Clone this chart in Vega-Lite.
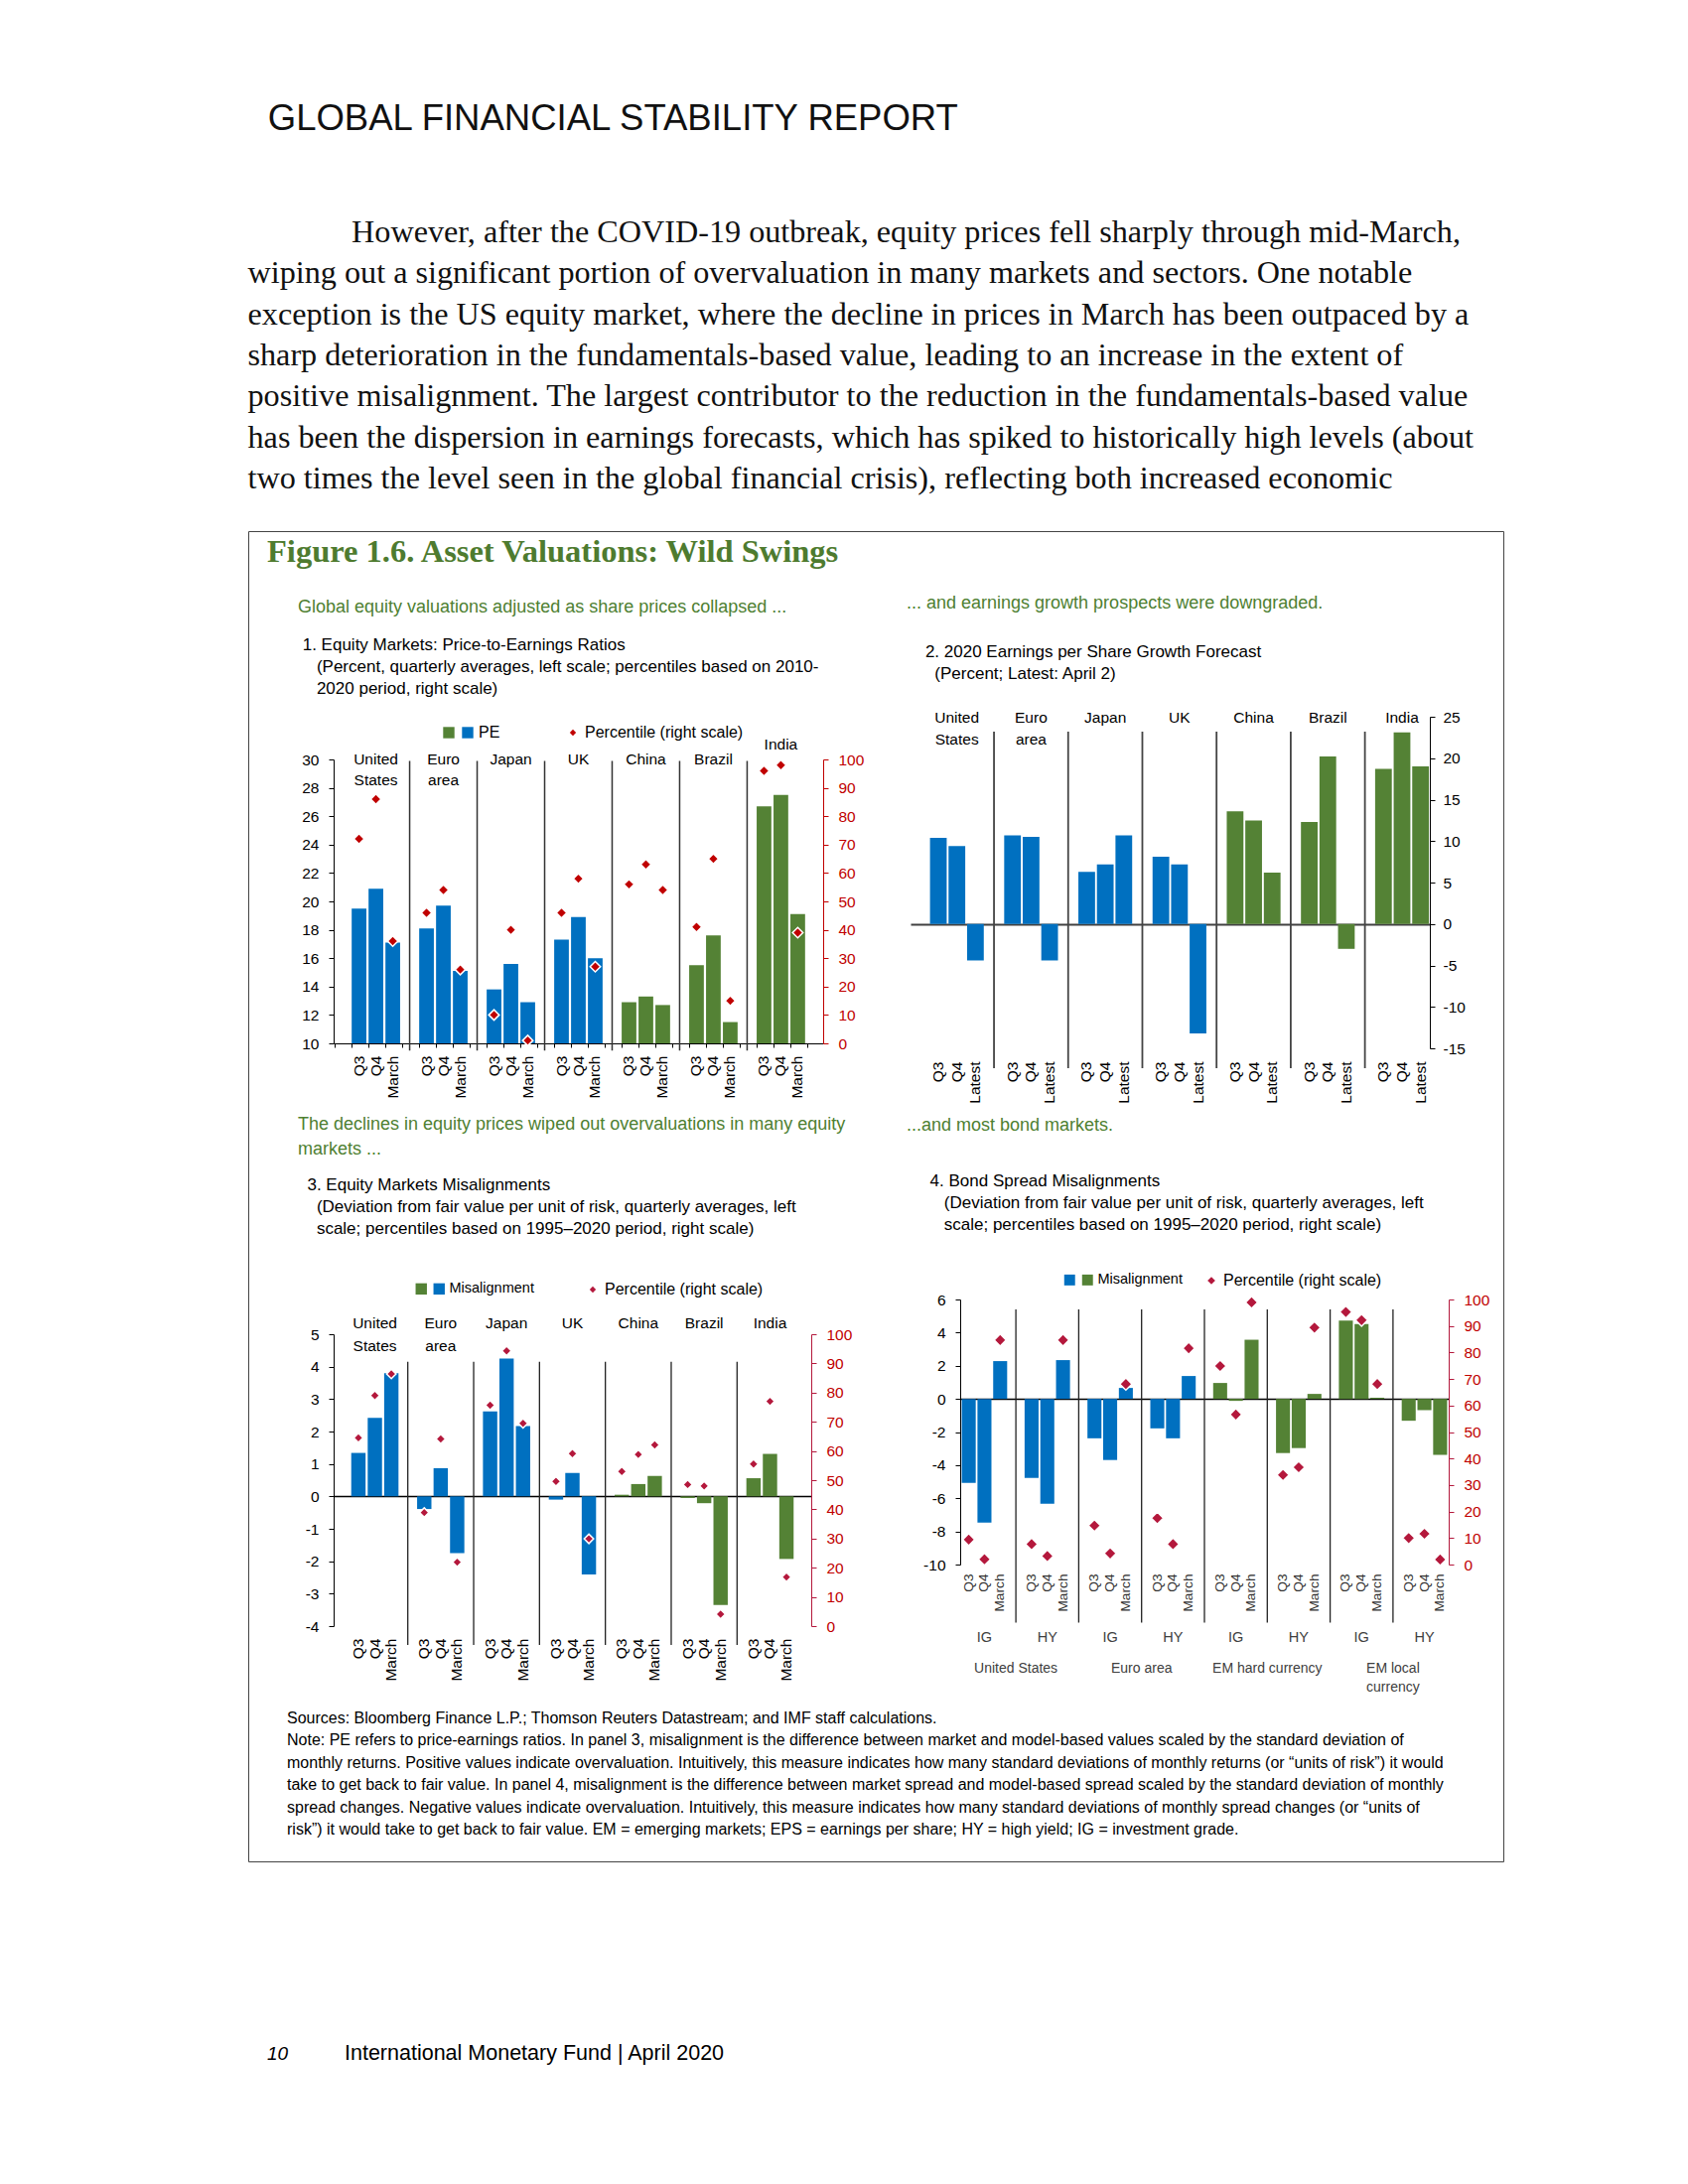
{
  "$schema": "https://vega.github.io/schema/vega-lite/v6.json",
  "background": "white",
  "padding": {"left": 249, "top": 102, "right": 10, "bottom": 10},
  "config": {
    "view": {"stroke": null},
    "font": "Liberation Sans",
    "axis": {"labelFont": "Liberation Sans", "labelFontSize": 15.5, "labelColor": "#000", "domainColor": "#000", "tickColor": "#000", "tickSize": 5, "labelPadding": 10, "grid": false, "labelOverlap": false},
    "legend": {"labelFont": "Liberation Sans", "labelFontSize": 16, "labelColor": "#000", "labelLimit": 400},
    "text": {"font": "Liberation Sans", "fontSize": 15.5, "lineBreak": "\n", "color": "#000"},
    "title": {"font": "Liberation Sans", "fontWeight": "normal", "anchor": "start", "frame": "group", "color": "#4E8031", "fontSize": 18, "subtitleFont": "Liberation Sans", "subtitleFontSize": 17, "subtitleColor": "#000", "subtitleLineHeight": 22}
  },
  "datasets": {
    "p1": [
      {"slot": "US Q3", "grp": "AE", "v": 19.5, "pct": 72},
      {"slot": "US Q4", "grp": "AE", "v": 20.9, "pct": 86},
      {"slot": "US March", "grp": "AE", "v": 17.1, "pct": 36},
      {"slot": "EA Q3", "grp": "AE", "v": 18.1, "pct": 46},
      {"slot": "EA Q4", "grp": "AE", "v": 19.7, "pct": 54},
      {"slot": "EA March", "grp": "AE", "v": 15.1, "pct": 26},
      {"slot": "JP Q3", "grp": "AE", "v": 13.8, "pct": 10},
      {"slot": "JP Q4", "grp": "AE", "v": 15.6, "pct": 40},
      {"slot": "JP March", "grp": "AE", "v": 12.9, "pct": 1},
      {"slot": "UK Q3", "grp": "AE", "v": 17.3, "pct": 46},
      {"slot": "UK Q4", "grp": "AE", "v": 18.9, "pct": 58},
      {"slot": "UK March", "grp": "AE", "v": 16.0, "pct": 27},
      {"slot": "CN Q3", "grp": "EM", "v": 12.9, "pct": 56},
      {"slot": "CN Q4", "grp": "EM", "v": 13.3, "pct": 63},
      {"slot": "CN March", "grp": "EM", "v": 12.7, "pct": 54},
      {"slot": "BR Q3", "grp": "EM", "v": 15.5, "pct": 41},
      {"slot": "BR Q4", "grp": "EM", "v": 17.6, "pct": 65},
      {"slot": "BR March", "grp": "EM", "v": 11.5, "pct": 15},
      {"slot": "IN Q3", "grp": "EM", "v": 26.7, "pct": 96},
      {"slot": "IN Q4", "grp": "EM", "v": 27.5, "pct": 98},
      {"slot": "IN March", "grp": "EM", "v": 19.1, "pct": 39}
    ],
    "p2": [
      {"slot": "US Q3", "grp": "AE", "v": 10.4},
      {"slot": "US Q4", "grp": "AE", "v": 9.4},
      {"slot": "US Latest", "grp": "AE", "v": -4.4},
      {"slot": "EA Q3", "grp": "AE", "v": 10.7},
      {"slot": "EA Q4", "grp": "AE", "v": 10.5},
      {"slot": "EA Latest", "grp": "AE", "v": -4.4},
      {"slot": "JP Q3", "grp": "AE", "v": 6.3},
      {"slot": "JP Q4", "grp": "AE", "v": 7.2},
      {"slot": "JP Latest", "grp": "AE", "v": 10.7},
      {"slot": "UK Q3", "grp": "AE", "v": 8.1},
      {"slot": "UK Q4", "grp": "AE", "v": 7.2},
      {"slot": "UK Latest", "grp": "AE", "v": -13.2},
      {"slot": "CN Q3", "grp": "EM", "v": 13.6},
      {"slot": "CN Q4", "grp": "EM", "v": 12.5},
      {"slot": "CN Latest", "grp": "EM", "v": 6.2},
      {"slot": "BR Q3", "grp": "EM", "v": 12.3},
      {"slot": "BR Q4", "grp": "EM", "v": 20.2},
      {"slot": "BR Latest", "grp": "EM", "v": -3.0},
      {"slot": "IN Q3", "grp": "EM", "v": 18.7},
      {"slot": "IN Q4", "grp": "EM", "v": 23.1},
      {"slot": "IN Latest", "grp": "EM", "v": 19.0}
    ],
    "p3": [
      {"slot": "US Q3", "grp": "AE", "v": 1.34, "pct": 64.5},
      {"slot": "US Q4", "grp": "AE", "v": 2.42, "pct": 79},
      {"slot": "US March", "grp": "AE", "v": 3.8, "pct": 86.4},
      {"slot": "EA Q3", "grp": "AE", "v": -0.39, "pct": 38.9},
      {"slot": "EA Q4", "grp": "AE", "v": 0.87, "pct": 64.1},
      {"slot": "EA March", "grp": "AE", "v": -1.75, "pct": 21.9},
      {"slot": "JP Q3", "grp": "AE", "v": 2.62, "pct": 75.7},
      {"slot": "JP Q4", "grp": "AE", "v": 4.25, "pct": 94.3},
      {"slot": "JP March", "grp": "AE", "v": 2.17, "pct": 69.5},
      {"slot": "UK Q3", "grp": "AE", "v": -0.1, "pct": 49.6},
      {"slot": "UK Q4", "grp": "AE", "v": 0.72, "pct": 59.1},
      {"slot": "UK March", "grp": "AE", "v": -2.41, "pct": 29.9},
      {"slot": "CN Q3", "grp": "EM", "v": 0.05, "pct": 53},
      {"slot": "CN Q4", "grp": "EM", "v": 0.38, "pct": 58.8},
      {"slot": "CN March", "grp": "EM", "v": 0.63, "pct": 62.1},
      {"slot": "BR Q3", "grp": "EM", "v": -0.05, "pct": 48.5},
      {"slot": "BR Q4", "grp": "EM", "v": -0.21, "pct": 48},
      {"slot": "BR March", "grp": "EM", "v": -3.35, "pct": 4.1},
      {"slot": "IN Q3", "grp": "EM", "v": 0.56, "pct": 55.5},
      {"slot": "IN Q4", "grp": "EM", "v": 1.31, "pct": 77},
      {"slot": "IN March", "grp": "EM", "v": -1.93, "pct": 16.8}
    ],
    "p4": [
      {"slot": "USIG Q3", "grp": "AE", "v": -5.07, "pct": 9.4},
      {"slot": "USIG Q4", "grp": "AE", "v": -7.47, "pct": 2.0},
      {"slot": "USIG March", "grp": "AE", "v": 2.28, "pct": 84.7},
      {"slot": "USHY Q3", "grp": "AE", "v": -4.77, "pct": 7.7},
      {"slot": "USHY Q4", "grp": "AE", "v": -6.33, "pct": 3.2},
      {"slot": "USHY March", "grp": "AE", "v": 2.34, "pct": 84.7},
      {"slot": "EAIG Q3", "grp": "AE", "v": -2.38, "pct": 14.7},
      {"slot": "EAIG Q4", "grp": "AE", "v": -3.69, "pct": 4.2},
      {"slot": "EAIG March", "grp": "AE", "v": 0.66, "pct": 68.1},
      {"slot": "EAHY Q3", "grp": "AE", "v": -1.78, "pct": 17.5},
      {"slot": "EAHY Q4", "grp": "AE", "v": -2.38, "pct": 7.7},
      {"slot": "EAHY March", "grp": "AE", "v": 1.38, "pct": 81.6},
      {"slot": "HCIG Q3", "grp": "EM", "v": 0.96, "pct": 74.9},
      {"slot": "HCIG Q4", "grp": "EM", "v": -0.12, "pct": 56.6},
      {"slot": "HCIG March", "grp": "EM", "v": 3.57, "pct": 98.9},
      {"slot": "HCHY Q3", "grp": "EM", "v": -3.27, "pct": 33.8},
      {"slot": "HCHY Q4", "grp": "EM", "v": -2.97, "pct": 36.7},
      {"slot": "HCHY March", "grp": "EM", "v": 0.3, "pct": 89.4},
      {"slot": "LCIG Q3", "grp": "EM", "v": 4.73, "pct": 95.3},
      {"slot": "LCIG Q4", "grp": "EM", "v": 4.51, "pct": 92.2},
      {"slot": "LCIG March", "grp": "EM", "v": 0.07, "pct": 68.1},
      {"slot": "LCHY Q3", "grp": "EM", "v": -1.32, "pct": 10.0},
      {"slot": "LCHY Q4", "grp": "EM", "v": -0.68, "pct": 11.6},
      {"slot": "LCHY March", "grp": "EM", "v": -3.38, "pct": 1.9}
    ],
    "sep6": [{"slot": "s1"}, {"slot": "s2"}, {"slot": "s3"}, {"slot": "s4"}, {"slot": "s5"}, {"slot": "s6"}],
    "sep7": [{"slot": "s1"}, {"slot": "s2"}, {"slot": "s3"}, {"slot": "s4"}, {"slot": "s5"}, {"slot": "s6"}, {"slot": "s7"}],
    "labA": [
      {"slot": "US Q4", "label": "United\nStates"},
      {"slot": "EA Q4", "label": "Euro\narea"},
      {"slot": "JP Q4", "label": "Japan"},
      {"slot": "UK Q4", "label": "UK"},
      {"slot": "CN Q4", "label": "China"},
      {"slot": "BR Q4", "label": "Brazil"}
    ],
    "labAll": [
      {"slot": "US Q4", "label": "United\nStates"},
      {"slot": "EA Q4", "label": "Euro\narea"},
      {"slot": "JP Q4", "label": "Japan"},
      {"slot": "UK Q4", "label": "UK"},
      {"slot": "CN Q4", "label": "China"},
      {"slot": "BR Q4", "label": "Brazil"},
      {"slot": "IN Q4", "label": "India"}
    ],
    "labType": [
      {"slot": "USIG Q4", "label": "IG"},
      {"slot": "USHY Q4", "label": "HY"},
      {"slot": "EAIG Q4", "label": "IG"},
      {"slot": "EAHY Q4", "label": "HY"},
      {"slot": "HCIG Q4", "label": "IG"},
      {"slot": "HCHY Q4", "label": "HY"},
      {"slot": "LCIG Q4", "label": "IG"},
      {"slot": "LCHY Q4", "label": "HY"}
    ],
    "labRegion": [
      {"slot": "s1", "label": "United States"},
      {"slot": "s3", "label": "Euro area"},
      {"slot": "s5", "label": "EM hard currency"},
      {"slot": "s7", "label": "EM local\ncurrency"}
    ]
  },
  "title": {
    "text": "\u200b\u00a0\u00a0GLOBAL FINANCIAL STABILITY REPORT",
    "subtitle": [
      "\u200b\u00a0\u00a0\u00a0\u00a0\u00a0\u00a0\u00a0\u00a0\u00a0\u00a0\u00a0\u00a0\u00a0However, after the COVID-19 outbreak, equity prices fell sharply through mid-March,",
      "wiping out a significant portion of overvaluation in many markets and sectors. One notable",
      "exception is the US equity market, where the decline in prices in March has been outpaced by a",
      "sharp deterioration in the fundamentals-based value, leading to an increase in the extent of",
      "positive misalignment. The largest contributor to the reduction in the fundamentals-based value",
      "has been the dispersion in earnings forecasts, which has spiked to historically high levels (about",
      "two times the level seen in the global financial crisis), reflecting both increased economic"
    ],
    "anchor": "start",
    "frame": "bounds",
    "font": "Liberation Sans",
    "fontSize": 36.5,
    "fontWeight": "normal",
    "color": "#111",
    "subtitleFont": "Liberation Serif",
    "subtitleFontSize": 32.2,
    "subtitleColor": "#111",
    "subtitleLineHeight": 41.4,
    "subtitlePadding": 80,
    "offset": 36
  },
  "columns": 2,
  "align": "none",
  "spacing": -1246,
  "resolve": {"scale": {"color": "independent", "shape": "independent"}, "legend": {"color": "independent", "shape": "independent"}},
  "concat": [
    {
      "width": 1264,
      "height": 1340,
      "view": {"stroke": "#444", "strokeWidth": 1},
      "title": {"text": "Figure 1.6. Asset Valuations: Wild Swings", "anchor": "start", "frame": "group", "orient": "top", "offset": -37, "dx": 19, "font": "Liberation Serif", "fontSize": 32.5, "fontWeight": "bold", "color": "#4E7B2F"},
      "data": {"values": []},
      "mark": "text"
    },
    {
      "spacing": 15,
      "resolve": {"scale": {"color": "independent", "shape": "independent"}, "legend": {"color": "independent", "shape": "independent"}},
      "vconcat": [
        {
          "spacing": 20,
          "resolve": {"scale": {"color": "independent", "shape": "independent"}, "legend": {"color": "independent", "shape": "independent"}},
          "hconcat": [
            {
              "spacing": 17,
              "resolve": {"scale": {"color": "independent", "shape": "independent"}, "legend": {"color": "independent", "shape": "independent"}},
              "vconcat": [
                {"width": 1, "height": 50, "data": {"values": []}, "mark": "text"},
                {
                  "width": 493,
                  "height": 286,
                  "title": {
                    "text": "Global equity valuations adjusted as share prices collapsed ...",
                    "subtitle": [
                      "\u200b\u00a01. Equity Markets: Price-to-Earnings Ratios",
                      "\u200b\u00a0\u00a0\u00a0\u00a0(Percent, quarterly averages, left scale; percentiles based on 2010-",
                      "\u200b\u00a0\u00a0\u00a0\u00a02020 period, right scale)"
                    ],
                    "dx": -36,
                    "subtitlePadding": 21,
                    "offset": 28.5
                  },
                  "encoding": {
                    "x": {
                      "field": "slot", "type": "nominal",
                      "scale": {"domain": ["b0", "US Q3", "US Q4", "US March", "s1", "EA Q3", "EA Q4", "EA March", "s2", "JP Q3", "JP Q4", "JP March", "s3", "UK Q3", "UK Q4", "UK March", "s4", "CN Q3", "CN Q4", "CN March", "s5", "BR Q3", "BR Q4", "BR March", "s6", "IN Q3", "IN Q4", "IN March", "b7"], "paddingInner": 0.13, "paddingOuter": 0.07},
                      "axis": {"title": null, "labelAngle": 270, "labelExpr": "substring(datum.value, 3)", "bandPosition": 0, "tickSize": 4, "labelPadding": 8, "labelOverlap": false}
                    }
                  },
                  "layer": [
                    {
                      "layer": [
                        {
                          "data": {"name": "p1"},
                          "mark": {"type": "bar"},
                          "encoding": {
                            "y": {"field": "v", "type": "quantitative", "scale": {"domain": [10, 30], "nice": false, "zero": false}, "axis": {"title": null, "orient": "left", "values": [10, 12, 14, 16, 18, 20, 22, 24, 26, 28, 30], "labelOverlap": false, "labelBound": false, "tickCount": 11}},
                            "y2": {"datum": 10},
                            "color": {"field": "grp", "type": "nominal", "scale": {"domain": ["EM", "AE"], "range": ["#548235", "#0070C0"]}, "legend": {"orient": "none", "legendX": 108, "legendY": -35, "direction": "horizontal", "title": null, "symbolType": "square", "symbolSize": 130, "symbolStrokeWidth": 0, "labelExpr": "datum.value === 'AE' ? 'PE' : ''", "columnPadding": 0, "labelOffset": 3}}
                          }
                        },
                        {
                          "data": {"name": "sep6"},
                          "mark": {"type": "rule", "color": "#333", "strokeWidth": 1.5},
                          "encoding": {"y": {"datum": 29.9, "type": "quantitative", "scale": {"domain": [10, 30], "nice": false, "zero": false}}, "y2": {"datum": 9.5}}
                        },
                        {
                          "data": {"name": "labA"},
                          "mark": {"type": "text", "baseline": "top", "dy": -7, "lineHeight": 21, "fontSize": 15.5},
                          "encoding": {"text": {"field": "label"}, "y": {"datum": 30, "type": "quantitative", "scale": {"domain": [10, 30], "nice": false, "zero": false}}}
                        },
                        {
                          "data": {"values": [{"slot": "IN Q4", "label": "India"}]},
                          "mark": {"type": "text", "baseline": "top", "dy": -22, "fontSize": 15.5},
                          "encoding": {"text": {"field": "label"}, "y": {"datum": 30, "type": "quantitative", "scale": {"domain": [10, 30], "nice": false, "zero": false}}}
                        }
                      ]
                    },
                    {
                      "data": {"name": "p1"},
                      "mark": {"type": "point", "filled": true, "size": 110, "fill": "#C00000", "stroke": "white", "strokeWidth": 1.5, "opacity": 1},
                      "encoding": {
                        "y": {"field": "pct", "type": "quantitative", "scale": {"domain": [0, 100], "nice": false}, "axis": {"title": null, "orient": "right", "values": [0, 10, 20, 30, 40, 50, 60, 70, 80, 90, 100], "labelOverlap": false, "labelColor": "#C00000", "domainColor": "#C00000", "tickColor": "#C00000"}},
                        "shape": {"datum": "Percentile (right scale)", "scale": {"range": ["diamond"]}, "legend": {"orient": "none", "legendX": 233, "legendY": -35, "title": null, "symbolSize": 40, "symbolFillColor": "#C00000", "symbolStrokeColor": "#C00000"}}
                      }
                    }
                  ],
                  "resolve": {"scale": {"y": "independent"}, "axis": {"y": "independent"}}
                },
                {
                  "width": 481,
                  "height": 294,
                  "title": {
                    "text": ["The declines in equity prices wiped out overvaluations in many equity", "markets ..."],
                    "lineHeight": 25,
                    "subtitle": [
                      "\u200b\u00a0\u00a03. Equity Markets Misalignments",
                      "\u200b\u00a0\u00a0\u00a0\u00a0(Deviation from fair value per unit of risk, quarterly averages, left",
                      "\u200b\u00a0\u00a0\u00a0\u00a0scale; percentiles based on 1995\u20132020 period, right scale)"
                    ],
                    "dx": -36,
                    "subtitlePadding": 19,
                    "offset": 45
                  },
                  "encoding": {
                    "x": {
                      "field": "slot", "type": "nominal",
                      "scale": {"domain": ["b0", "US Q3", "US Q4", "US March", "s1", "EA Q3", "EA Q4", "EA March", "s2", "JP Q3", "JP Q4", "JP March", "s3", "UK Q3", "UK Q4", "UK March", "s4", "CN Q3", "CN Q4", "CN March", "s5", "BR Q3", "BR Q4", "BR March", "s6", "IN Q3", "IN Q4", "IN March", "b7"], "paddingInner": 0.13, "paddingOuter": 0.07},
                      "axis": {"title": null, "labelAngle": 270, "labelExpr": "substring(datum.value, 3)", "domain": false, "ticks": false, "labelPadding": 12, "labelOverlap": false}
                    }
                  },
                  "layer": [
                    {
                      "layer": [
                        {
                          "data": {"name": "p3"},
                          "mark": {"type": "bar"},
                          "encoding": {
                            "y": {"field": "v", "type": "quantitative", "scale": {"domain": [-4, 5], "nice": false}, "axis": {"title": null, "orient": "left", "values": [-4, -3, -2, -1, 0, 1, 2, 3, 4, 5], "tickCount": 10, "labelOverlap": false, "labelBound": false, "labelExpr": "'' + datum.value", "grid": true, "gridColor": "#000", "gridWidth": 1.5, "gridOpacity": {"condition": {"test": "datum.value === 0", "value": 1}, "value": 0}}},
                            "color": {"field": "grp", "type": "nominal", "scale": {"domain": ["EM", "AE"], "range": ["#548235", "#0070C0"]}, "legend": {"orient": "none", "legendX": 81, "legendY": -53, "direction": "horizontal", "title": null, "symbolType": "square", "symbolSize": 130, "symbolStrokeWidth": 0, "labelFontSize": 14.5, "labelExpr": "datum.value === 'AE' ? 'Misalignment' : ''", "columnPadding": 0, "labelOffset": 3}}
                          }
                        },
                        {
                          "data": {"name": "sep6"},
                          "mark": {"type": "rule", "color": "#222", "strokeWidth": 1.3},
                          "encoding": {"y": {"datum": 4.15, "type": "quantitative", "scale": {"domain": [-4, 5], "nice": false}}, "y2": {"datum": -4.58}}
                        },
                        {
                          "data": {"name": "labAll"},
                          "mark": {"type": "text", "baseline": "top", "dy": -18, "lineHeight": 23, "fontSize": 15.5},
                          "encoding": {"text": {"field": "label"}, "y": {"datum": 5, "type": "quantitative", "scale": {"domain": [-4, 5], "nice": false}}}
                        }
                      ]
                    },
                    {
                      "data": {"name": "p3"},
                      "mark": {"type": "point", "filled": true, "size": 90, "fill": "#B4183C", "stroke": "white", "strokeWidth": 1.5, "opacity": 1},
                      "encoding": {
                        "y": {"field": "pct", "type": "quantitative", "scale": {"domain": [0, 100], "nice": false}, "axis": {"title": null, "orient": "right", "values": [0, 10, 20, 30, 40, 50, 60, 70, 80, 90, 100], "labelOverlap": false, "labelColor": "#C00000", "domainColor": "#B4183C", "tickColor": "#B4183C"}},
                        "shape": {"datum": "Percentile (right scale)", "scale": {"range": ["diamond"]}, "legend": {"orient": "none", "legendX": 253, "legendY": -53, "title": null, "symbolSize": 40, "symbolFillColor": "#B4183C", "symbolStrokeColor": "#B4183C"}}
                      }
                    }
                  ],
                  "resolve": {"scale": {"y": "independent"}, "axis": {"y": "independent"}}
                }
              ]
            },
            {
              "columns": 2,
              "align": "none",
              "spacing": {"row": 13, "column": 22},
              "resolve": {"scale": {"color": "independent", "shape": "independent"}, "legend": {"color": "independent", "shape": "independent"}},
              "concat": [
                {"width": 1, "height": 1, "data": {"values": []}, "mark": "text"},
                {"width": 1, "height": 51, "data": {"values": []}, "mark": "text"},
                {"width": 1, "height": 1, "data": {"values": []}, "mark": "text"},
                {
                  "width": 523,
                  "height": 334,
                  "title": {
                    "text": "... and earnings growth prospects were downgraded.",
                    "subtitle": [
                      "\u200b\u00a0\u00a0\u00a0\u00a02. 2020 Earnings per Share Growth Forecast",
                      "\u200b\u00a0\u00a0\u00a0\u00a0\u00a0\u00a0(Percent; Latest: April 2)"
                    ],
                    "dx": -4,
                    "subtitlePadding": 32,
                    "offset": 28
                  },
                  "encoding": {
                    "x": {
                      "field": "slot", "type": "nominal",
                      "scale": {"domain": ["b0", "US Q3", "US Q4", "US Latest", "s1", "EA Q3", "EA Q4", "EA Latest", "s2", "JP Q3", "JP Q4", "JP Latest", "s3", "UK Q3", "UK Q4", "UK Latest", "s4", "CN Q3", "CN Q4", "CN Latest", "s5", "BR Q3", "BR Q4", "BR Latest", "s6", "IN Q3", "IN Q4", "IN Latest"], "paddingInner": 0.1, "paddingOuter": 0.05},
                      "axis": {"title": null, "labelAngle": 270, "labelExpr": "substring(datum.value, 3)", "domain": false, "ticks": false, "labelPadding": 13, "labelOverlap": false}
                    }
                  },
                  "layer": [
                    {
                      "data": {"name": "p2"},
                      "mark": {"type": "bar"},
                      "encoding": {
                        "y": {"field": "v", "type": "quantitative", "scale": {"domain": [-15, 25], "nice": false}, "axis": {"title": null, "orient": "right", "values": [-15, -10, -5, 0, 5, 10, 15, 20, 25], "labelOverlap": false, "labelExpr": "'' + datum.value", "labelPadding": 8, "grid": true, "gridColor": "#404040", "gridWidth": 2, "gridOpacity": {"condition": {"test": "datum.value === 0", "value": 1}, "value": 0}}},
                        "color": {"field": "grp", "type": "nominal", "scale": {"domain": ["EM", "AE"], "range": ["#548235", "#0070C0"]}, "legend": null}
                      }
                    },
                    {
                      "data": {"name": "sep6"},
                      "mark": {"type": "rule", "color": "#444", "strokeWidth": 1.8},
                      "encoding": {"y": {"datum": 23.2, "type": "quantitative", "scale": {"domain": [-15, 25], "nice": false}}, "y2": {"datum": -17.4}}
                    },
                    {
                      "data": {"name": "labAll"},
                      "mark": {"type": "text", "baseline": "top", "dy": -6, "lineHeight": 22, "fontSize": 15.5},
                      "encoding": {"text": {"field": "label"}, "y": {"datum": 25, "type": "quantitative", "scale": {"domain": [-15, 25], "nice": false}}}
                    }
                  ]
                },
                {"width": 1, "height": 1, "data": {"values": []}, "mark": "text"},
                {
                  "width": 492,
                  "height": 267,
                  "title": {
                    "text": "...and most bond markets.",
                    "subtitle": [
                      "\u200b\u00a0\u00a0\u00a0\u00a0\u00a04. Bond Spread Misalignments",
                      "\u200b\u00a0\u00a0\u00a0\u00a0\u00a0\u00a0\u00a0\u00a0(Deviation from fair value per unit of risk, quarterly averages, left",
                      "\u200b\u00a0\u00a0\u00a0\u00a0\u00a0\u00a0\u00a0\u00a0scale; percentiles based on 1995\u20132020 period, right scale)"
                    ],
                    "dx": -54,
                    "subtitlePadding": 39,
                    "offset": 40
                  },
                  "encoding": {
                    "x": {
                      "field": "slot", "type": "nominal",
                      "scale": {"domain": ["USIG Q3", "USIG Q4", "USIG March", "s1", "USHY Q3", "USHY Q4", "USHY March", "s2", "EAIG Q3", "EAIG Q4", "EAIG March", "s3", "EAHY Q3", "EAHY Q4", "EAHY March", "s4", "HCIG Q3", "HCIG Q4", "HCIG March", "s5", "HCHY Q3", "HCHY Q4", "HCHY March", "s6", "LCIG Q3", "LCIG Q4", "LCIG March", "s7", "LCHY Q3", "LCHY Q4", "LCHY March"], "paddingInner": 0.11, "paddingOuter": 0.1},
                      "axis": {"title": null, "labelAngle": 270, "labelExpr": "substring(datum.value, 5)", "domain": false, "ticks": false, "labelPadding": 9, "labelFontSize": 13.7, "labelColor": "#333", "labelOverlap": false}
                    }
                  },
                  "layer": [
                    {
                      "layer": [
                        {
                          "data": {"name": "p4"},
                          "mark": {"type": "bar"},
                          "encoding": {
                            "y": {"field": "v", "type": "quantitative", "scale": {"domain": [-10, 6], "nice": false}, "axis": {"title": null, "orient": "left", "values": [-10, -8, -6, -4, -2, 0, 2, 4, 6], "tickCount": 9, "labelOverlap": false, "labelBound": false, "labelExpr": "'' + datum.value", "labelPadding": 10, "grid": true, "gridColor": "#000", "gridWidth": 1.5, "gridOpacity": {"condition": {"test": "datum.value === 0", "value": 1}, "value": 0}}},
                            "color": {"field": "grp", "type": "nominal", "scale": {"domain": ["AE", "EM"], "range": ["#0070C0", "#548235"]}, "legend": {"orient": "none", "legendX": 103, "legendY": -27, "direction": "horizontal", "title": null, "symbolType": "square", "symbolSize": 120, "symbolStrokeWidth": 0, "labelFontSize": 14.5, "labelExpr": "datum.value === 'EM' ? 'Misalignment' : ''", "columnPadding": 0, "labelOffset": 3}}
                          }
                        },
                        {
                          "data": {"name": "sep7"},
                          "mark": {"type": "rule", "color": "#222", "strokeWidth": 1.3},
                          "encoding": {"y": {"datum": 5.4, "type": "quantitative", "scale": {"domain": [-10, 6], "nice": false}}, "y2": {"datum": -13.5}}
                        },
                        {
                          "data": {"name": "labType"},
                          "mark": {"type": "text", "baseline": "top", "dy": 67, "fontSize": 14.5, "color": "#404040"},
                          "encoding": {"text": {"field": "label"}, "y": {"datum": -10, "type": "quantitative", "scale": {"domain": [-10, 6], "nice": false}}}
                        },
                        {
                          "data": {"name": "labRegion"},
                          "mark": {"type": "text", "baseline": "top", "dy": 98, "lineHeight": 19, "fontSize": 14, "color": "#404040"},
                          "encoding": {"text": {"field": "label"}, "y": {"datum": -10, "type": "quantitative", "scale": {"domain": [-10, 6], "nice": false}}}
                        }
                      ]
                    },
                    {
                      "data": {"name": "p4"},
                      "mark": {"type": "point", "filled": true, "size": 150, "fill": "#B4183C", "stroke": "white", "strokeWidth": 1.5, "opacity": 1},
                      "encoding": {
                        "y": {"field": "pct", "type": "quantitative", "scale": {"domain": [0, 100], "nice": false}, "axis": {"title": null, "orient": "right", "values": [0, 10, 20, 30, 40, 50, 60, 70, 80, 90, 100], "labelOverlap": false, "labelColor": "#C00000", "domainColor": "#B4183C", "tickColor": "#B4183C"}},
                        "shape": {"datum": "Percentile (right scale)", "scale": {"range": ["diamond"]}, "legend": {"orient": "none", "legendX": 245, "legendY": -27, "title": null, "symbolSize": 60, "symbolFillColor": "#B4183C", "symbolStrokeColor": "#B4183C"}}
                      }
                    }
                  ],
                  "resolve": {"scale": {"y": "independent"}, "axis": {"y": "independent"}}
                }
              ]
            }
          ]
        },
        {
          "width": 1,
          "height": 191,
          "title": {
            "text": "Sources: Bloomberg Finance L.P.; Thomson Reuters Datastream; and IMF staff calculations.",
            "subtitle": [
              "Note: PE refers to price-earnings ratios. In panel 3, misalignment is the difference between market and model-based values scaled by the standard deviation of",
              "monthly returns. Positive values indicate overvaluation. Intuitively, this measure indicates how many standard deviations of monthly returns (or \u201cunits of risk\u201d) it would",
              "take to get back to fair value. In panel 4, misalignment is the difference between market spread and model-based spread scaled by the standard deviation of monthly",
              "spread changes. Negative values indicate overvaluation. Intuitively, this measure indicates how many standard deviations of monthly spread changes (or \u201cunits of",
              "risk\u201d) it would take to get back to fair value. EM = emerging markets; EPS = earnings per share; HY = high yield; IG = investment grade."
            ],
            "dx": -47,
            "color": "#000",
            "fontSize": 16,
            "subtitleFontSize": 16,
            "subtitleLineHeight": 22.4,
            "subtitlePadding": 6.5,
            "offset": 0
          },
          "data": {"values": []},
          "mark": "text"
        },
        {
          "spacing": 10,
          "hconcat": [
            {
              "width": 1,
              "height": 1,
              "title": {"text": "10", "dx": -67, "color": "#000", "fontSize": 19, "fontStyle": "italic", "offset": 0},
              "data": {"values": []},
              "mark": "text"
            },
            {
              "width": 1,
              "height": 1,
              "title": {"text": "International Monetary Fund | April 2020", "color": "#000", "fontSize": 21.5, "offset": 0},
              "data": {"values": []},
              "mark": "text"
            }
          ]
        }
      ]
    }
  ]
}
